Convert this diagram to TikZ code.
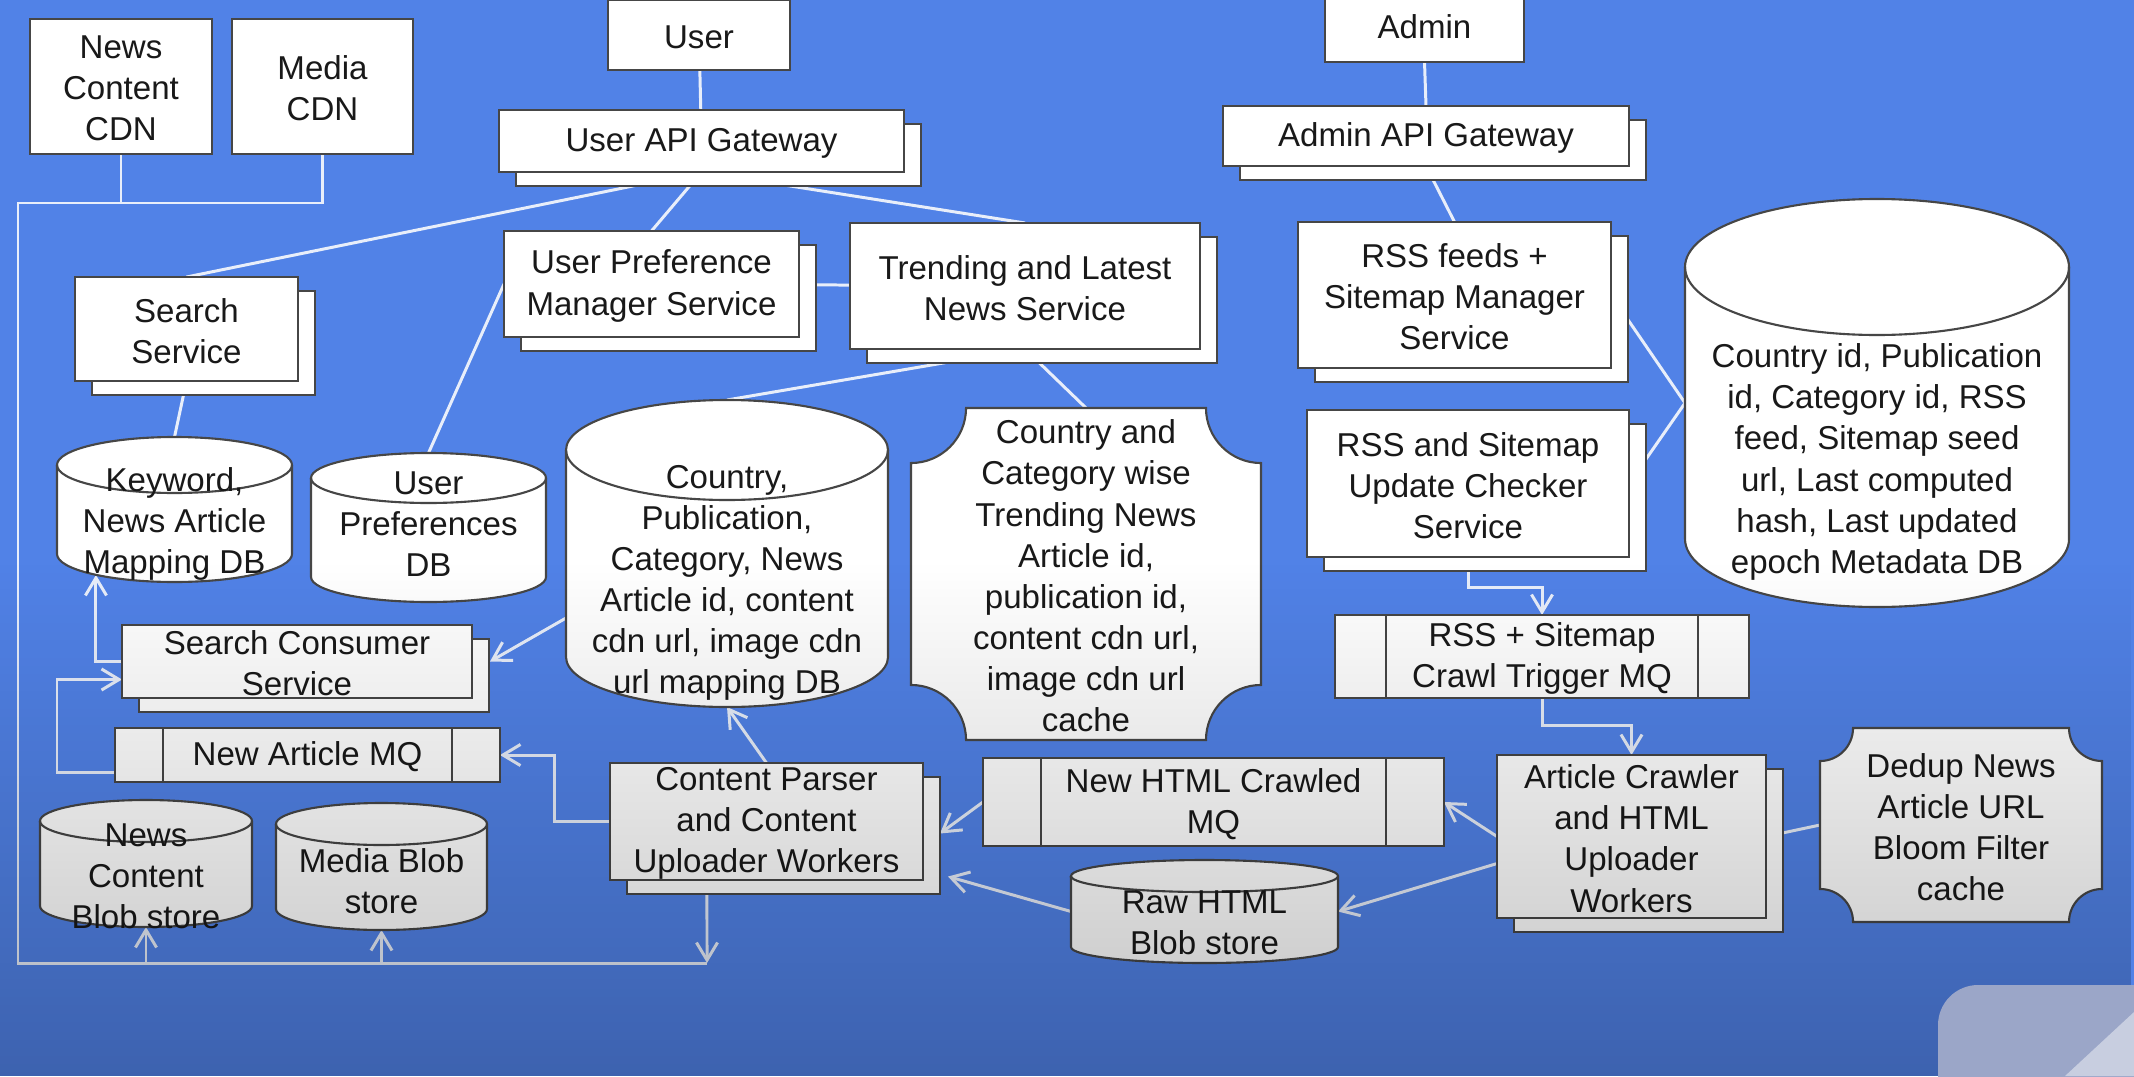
\documentclass[tikz,border=0pt]{standalone}
\usepackage{fontspec}
\setmainfont{Liberation Sans}
\usetikzlibrary{fit,shadows,arrows.meta,fadings,calc}
\pgfdeclarelayer{bgl}
\pgfdeclarelayer{edges}
\pgfdeclarelayer{shapes}
\pgfdeclarelayer{fg}
\pgfsetlayers{bgl,edges,shapes,main,fg}
\definecolor{bgblue}{RGB}{81,130,231}
\definecolor{lnc}{RGB}{232,238,250}
\definecolor{bordc}{RGB}{70,70,70}
\definecolor{uigray}{RGB}{155,166,200}
\tikzset{
 txt/.style={font=\fontsize{9.4}{11.7}\selectfont, align=center, text=black!90, inner sep=0pt, yshift=-0.02cm},
 boxn/.style={draw=bordc, line width=0.6pt, fill=white, inner sep=0pt, outer sep=0pt},
 stack/.style={boxn, copy shadow={shadow xshift=0.17cm, shadow yshift=-0.14cm, fill=white, draw=bordc, line width=0.6pt}},
 fitbox/.style={inner sep=0pt, outer sep=0pt},
 shp/.style={draw=bordc, line width=0.6pt, fill=white},
 ln/.style={draw=lnc, line width=0.85pt},
 arr/.style={ln, -{Straight Barb[length=5pt,width=6pt]}},
}
% box: name, style, x1, y1, x2, y2, text
\newcommand\bx[7]{%
  \node[#2, fit={(#3,#4) (#5,#6)}] (#1) {};
  \node[txt] (#1-t) at (#1.center) {#7};
}
% cylinder: name, x1, y1, x2, y2, ry(px), text y, text
\newcommand\dbcyl[8]{%
  \node[fitbox, fit={(#2,#3) (#4,#5)}] (#1) {};
  \pgfmathsetmacro\rxx{(#4-#2)/2*0.01}%
  \pgfmathsetmacro\ryy{#6*0.01}%
  \begin{pgfonlayer}{shapes}
  \path[shp] ([yshift=-\ryy cm]#1.north west) -- ([yshift=\ryy cm]#1.south west)
     arc[start angle=180, end angle=360, x radius=\rxx cm, y radius=\ryy cm]
     -- ([yshift=-\ryy cm]#1.north east)
     arc[start angle=0, end angle=180, x radius=\rxx cm, y radius=\ryy cm] -- cycle;
  \draw[draw=bordc, line width=0.6pt] ([yshift=-\ryy cm]#1.north west)
     arc[start angle=180, end angle=360, x radius=\rxx cm, y radius=\ryy cm];
  \end{pgfonlayer}
  \node[txt] (#1-t) at ({(#2+#4)/2},#7) {#8};
}
% cache with concave corners: name, x1,y1,x2,y2, r(cm), text
\newcommand\cachebox[7]{%
  \node[fitbox, fit={(#2,#3) (#4,#5)}] (#1) {};
  \begin{pgfonlayer}{shapes}
  \path[shp] ([xshift=#6 cm]#1.north west) -- ([xshift=-#6 cm]#1.north east)
    arc[start angle=180, end angle=270, radius=#6 cm]
    -- ([yshift=#6 cm]#1.south east)
    arc[start angle=90, end angle=180, radius=#6 cm]
    -- ([xshift=#6 cm]#1.south west)
    arc[start angle=0, end angle=90, radius=#6 cm]
    -- ([yshift=-#6 cm]#1.north west)
    arc[start angle=270, end angle=360, radius=#6 cm] -- cycle;
  \end{pgfonlayer}
  \node[txt] (#1-t) at (#1.center) {#7};
}
% message queue dividers: name, inset(cm)
\newcommand\mqdiv[2]{%
  \draw[draw=bordc, line width=0.6pt] ([xshift=#2 cm]#1.north west) -- ([xshift=#2 cm]#1.south west);
  \draw[draw=bordc, line width=0.6pt] ([xshift=-#2 cm]#1.north east) -- ([xshift=-#2 cm]#1.south east);
}
\begin{document}
\begin{tikzpicture}[x=0.01cm, y=-0.01cm]
\useasboundingbox (0,0) rectangle (2134,1076);
\begin{pgfonlayer}{bgl}
\fill[bgblue] (0,0) rectangle (2134,1076);
\end{pgfonlayer}

% plain boxes
\bx{ncdn}{boxn}{30}{19}{212}{154}{News\\Content\\CDN}
\bx{mcdn}{boxn}{232}{19}{413}{154}{Media\\CDN}
\bx{user}{boxn}{608}{0}{790}{70}{User}
\bx{admin}{boxn}{1325}{-12}{1524}{62}{Admin}

% stacked boxes
\bx{ugw}{stack}{499}{110}{904}{172}{User API Gateway}
\bx{agw}{stack}{1223}{106}{1629}{166}{Admin API Gateway}
\bx{search}{stack}{75}{277}{298}{381}{Search\\Service}
\bx{upm}{stack}{504}{231}{799}{337}{User Preference\\Manager Service}
\bx{trend}{stack}{850}{223}{1200}{349}{Trending and Latest\\News Service}
\bx{rssm}{stack}{1298}{222}{1611}{368}{RSS feeds +\\Sitemap Manager\\Service}
\bx{chk}{stack}{1307}{410}{1629}{557}{RSS and Sitemap\\Update Checker\\Service}
\bx{scs}{stack}{122}{625}{472}{698}{Search Consumer\\Service}
\bx{cp}{stack}{610}{763}{923}{880}{Content Parser\\and Content\\Uploader Workers}
\bx{crawl}{stack}{1497}{755}{1766}{918}{Article Crawler\\and HTML\\Uploader\\Workers}

% message queues
\bx{namq}{boxn}{115}{728}{500}{782}{New Article MQ}
\mqdiv{namq}{0.48}
\bx{trig}{boxn}{1335}{615}{1749}{698}{RSS + Sitemap\\Crawl Trigger MQ}
\mqdiv{trig}{0.51}
\bx{htmlmq}{boxn}{983}{758}{1444}{846}{New HTML Crawled\\MQ}
\mqdiv{htmlmq}{0.58}

% caches
\cachebox{tcache}{911}{408}{1261}{740}{0.55}{Country and\\Category wise\\Trending News\\Article id,\\publication id,\\content cdn url,\\image cdn url\\cache}
\cachebox{dedup}{1820}{728}{2102}{922}{0.33}{Dedup News\\Article URL\\Bloom Filter\\cache}

% databases
\dbcyl{kwdb}{57}{437}{292}{582}{28}{522}{Keyword,\\News Article\\Mapping DB}
\dbcyl{updb}{311}{453}{546}{602}{25}{522}{User\\Preferences\\DB}
\dbcyl{cdb}{566}{400}{888}{707}{50}{581}{Country,\\Publication,\\Category, News\\Article id, content\\cdn url, image cdn\\url mapping DB}
\dbcyl{meta}{1685}{199}{2069}{607}{68}{460}{Country id, Publication\\id, Category id, RSS\\feed, Sitemap seed\\url, Last computed\\hash, Last updated\\epoch Metadata DB}
\dbcyl{ncbs}{40}{800}{252}{927}{21}{874}{News\\Content\\Blob store}
\dbcyl{mbs}{276}{803}{487}{930}{21}{879}{Media Blob\\store}
\dbcyl{rawdb}{1071}{860}{1338}{963}{16}{921}{Raw HTML\\Blob store}

\coordinate (tl) at (18,203);
\coordinate (bl) at (18,963);
\coordinate (br) at (707,963);

\begin{pgfonlayer}{edges}
\draw[ln] (user) -- (ugw);
\draw[ln] (ugw.south) -- (search.north);
\draw[ln] (ugw.south) -- (upm.north);
\draw[ln] (ugw.south) -- (trend.north);
\draw[ln] (upm) -- (trend);
\draw[ln] (search.south) -- (kwdb.north);
\draw[ln] (upm.west) -- (updb.north);
\draw[ln] (trend.south) -- (cdb.north);
\draw[ln] (trend.south) -- (tcache.north);
\draw[ln] (admin.south) -- (agw.north);
\draw[ln] (agw.south) -- (rssm.north);
\draw[ln] (rssm.east) -- (meta.west);
\draw[ln] (chk.east) -- (meta.west);
\draw[arr] (chk.south) -- ++(0,30) -| (trig.north);
\draw[arr] (trig.south) -- ++(0,27) -| (crawl.north);
\draw[arr] (crawl.west) -- (htmlmq.east);
\draw[arr] ([yshift=-0.27cm]crawl.west) -- (rawdb.east);
\draw[ln] (crawl.east) -- (dedup.west);
\draw[arr] (htmlmq.west) -- ([xshift=0.17cm,yshift=-0.12cm]cp.east);
\draw[arr] (rawdb.west) -- ([xshift=0.25cm,yshift=-0.55cm]cp.east);
\draw[arr] (cp.north) -- (cdb.south);
\draw[arr] (cp.west) -- ++(-56,0) |- (namq.east);
\draw[arr] ([yshift=-0.17cm]namq.west) -- ++(-58,0) |- ([yshift=-0.18cm]scs.west);
\draw[arr] (scs.west) -| ([xshift=-0.785cm,yshift=0.07cm]kwdb.south);
\draw[arr] ([yshift=-0.645cm]cdb.west) -- ([xshift=0.18cm]scs.east);
\draw[ln] (mcdn.south) |- (tl) -- (bl) -- (br);
\draw[ln] (ncdn.south) -- (ncdn.south |- tl);
\draw[arr] ([xshift=-0.595cm]cp.south) -- (br);
\draw[arr] (ncbs.south |- bl) -- (ncbs.south);
\draw[arr] (mbs.south |- bl) -- (mbs.south);
\end{pgfonlayer}

\begin{pgfonlayer}{fg}
\fill[black, fill opacity=0.24, path fading=north] (0,560) rectangle (2134,1076);
\fill[uigray, rounded corners=0.4cm] (1938,985) rectangle (2220,1160);
\fill[white, fill opacity=0.45] (2065,1076) -- (2134,1012) -- (2134,1076) -- cycle;
\end{pgfonlayer}
\end{tikzpicture}
\end{document}
